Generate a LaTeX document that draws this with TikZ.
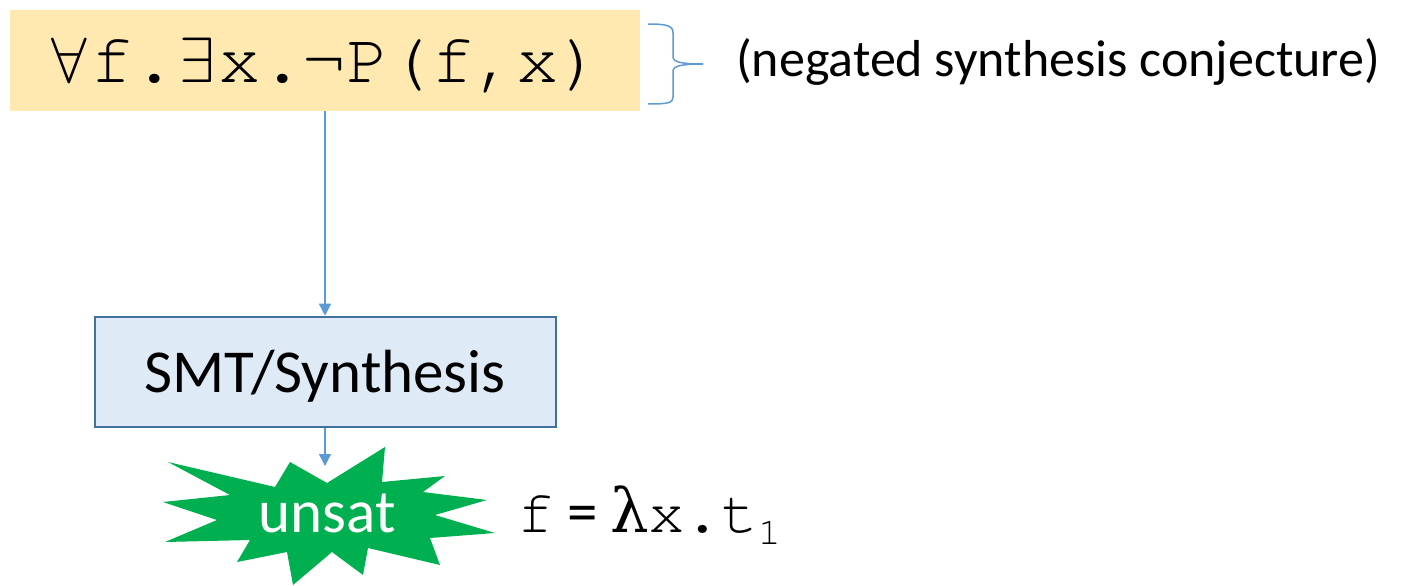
\RequirePackage{fix-cm}
\documentclass[tikz,border=0pt]{standalone}
\usepackage{fontspec}
\setmainfont{Carlito}
\setmonofont{texgyrecursor-regular.otf}
\newfontfamily\symserif{DejaVu Serif}
\usepackage{tikz}
\usetikzlibrary{arrows.meta,positioning}
\definecolor{goalfill}{HTML}{FFE9B0}
\definecolor{solverfill}{HTML}{DEEBF7}
\definecolor{solverline}{HTML}{41719C}
\definecolor{linkblue}{HTML}{5B9BD5}
\definecolor{burstgreen}{HTML}{00B050}
\newcommand{\monosym}[1]{\makebox[0.6em]{\symserif #1}}
\newcommand{\monomath}[1]{\makebox[0.6em]{\fontsize{64}{70}\selectfont$#1$}}

\begin{document}
\begin{tikzpicture}[x=1pt,y=-1pt]
  \tikzset{
    goal/.style={fill=goalfill, minimum width=630pt, minimum height=101pt, inner sep=0pt, text height=50pt, text depth=7pt, font=\fontsize{71}{80}\selectfont\ttfamily},
    note/.style={anchor=base west, inner sep=0pt, font=\fontsize{52}{60}\selectfont},
    solver/.style={draw=solverline, fill=solverfill, line width=2pt, minimum width=461pt, minimum height=110pt, inner sep=0pt, text height=50pt, text depth=8pt, font=\fontsize{61}{70}\selectfont},
    burst/.style={fill=burstgreen},
    verdict/.style={anchor=base, inner sep=0pt, text=white, font=\fontsize{61}{70}\selectfont},
    sol/.style={anchor=base west, inner sep=0pt, font=\fontsize{61}{70}\selectfont},
    arr/.style={-{Triangle[length=12pt, width=12pt]}, draw=linkblue, line width=1.5pt},
    brc/.style={draw=linkblue, line width=1.5pt}
  }
  \useasboundingbox (0,0) rectangle (1405,586);

  % - Conjecture ---
  \node[goal] (goal) at (325, 60.5) {\monomath{\forall}f.\monomath{\exists}x.¬P(f,x)};
  \coordinate (btop) at (648, 24);
  \coordinate (bbot) at (648, 104);
  \draw[brc] (btop) .. controls (668, 24) and (673, 26) .. (673, 33) -- (673, 57)
    .. controls (673, 63) and (686, 64) .. (703, 64)
    .. controls (686, 64) and (673, 65) .. (673, 71) -- (673, 97)
    .. controls (673, 103) and (668, 104) .. (bbot);
  \node[note] (note) at (736, 77) {(negated synthesis conjecture)};

  % - Solver ---
  \node[solver] (smt) at (325, 371.7) {SMT/Synthesis};

  % - Result ---
  \fill[burst] (168, 462) -- (275, 487) -- (290, 462) -- (327, 483) -- (385, 447)
    -- (382, 482) -- (445, 476) -- (423, 492) -- (487, 500) -- (435, 515)
    -- (495, 533) -- (430, 538) -- (440, 565) -- (368, 548) -- (363, 575)
    -- (332, 552) -- (293, 585) -- (287, 552) -- (237, 562) -- (250, 540)
    -- (165, 542) -- (217, 520) -- (163, 502) -- (230, 495) -- cycle;
  \node[verdict] (unsat) at (327, 532) {unsat};
  \coordinate (bursttop) at (325, 466);
  \node[sol] (sol) at (517, 532) {{\ttfamily f} = {\ttfamily\monosym{λ}x.t}\raisebox{-12pt}{\ttfamily\fontsize{38}{40}\selectfont 1}};

  % - Arrows ---
  \draw[arr] (goal.south) -- (smt.north);
  \draw[arr] (smt.south) -- (bursttop);

\end{tikzpicture}
\end{document}
